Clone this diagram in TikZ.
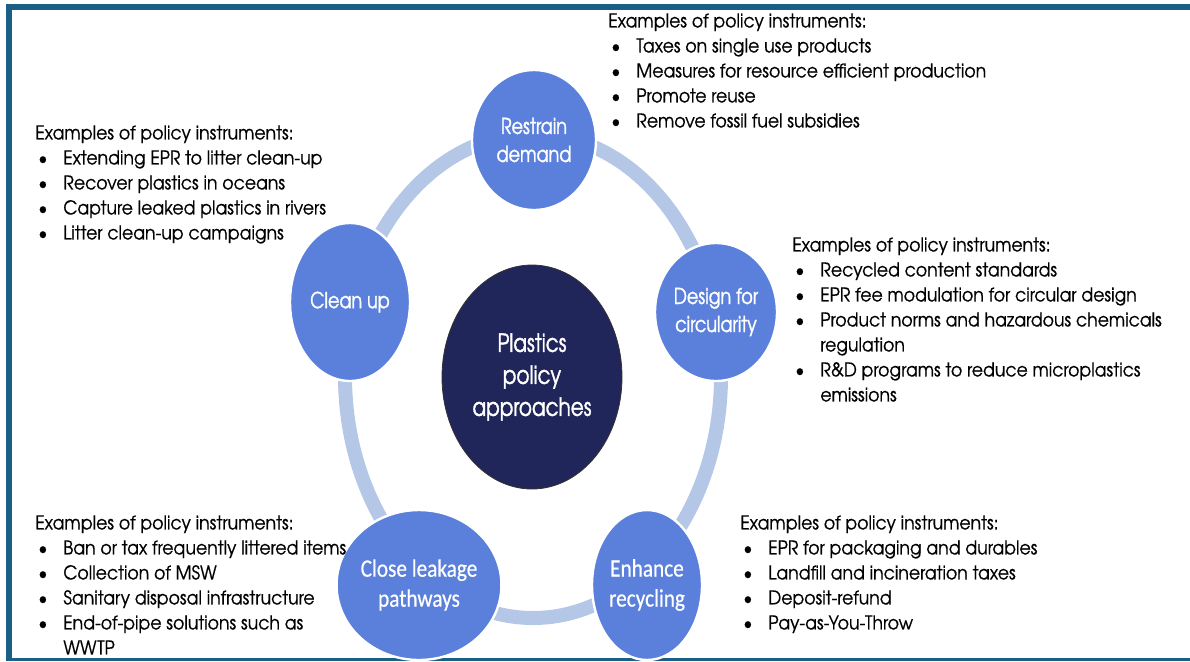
\documentclass[tikz,border=0pt]{standalone}
\usepackage{fontspec}
\setmainfont{texgyreadventor}[Extension=.otf, UprightFont=*-regular, BoldFont=*-bold, FakeStretch=0.91, FakeBold=0.6]
\newfontfamily\labelfont{texgyreadventor}[Extension=.otf, UprightFont=*-regular, FakeStretch=0.8, FakeBold=1.3]
\newfontfamily\calfont{Carlito}[FakeStretch=0.85, FakeBold=0.5]
\usetikzlibrary{shapes.geometric}

\definecolor{framecol}{HTML}{1B5F86}
\definecolor{stepblue}{HTML}{5B80DB}
\definecolor{corenavy}{HTML}{20255A}
\definecolor{ringblue}{HTML}{B4C7E7}

\tikzset{
  approach/.style n args={2}{
    ellipse,
    minimum width=#1,
    minimum height=#2,
    inner sep=0pt,
    fill=stepblue,
    draw=white,
    line width=1.2pt,
    text=white,
    align=center,
    font=\labelfont\fontsize{11}{14}\selectfont
  },
  core/.style={
    ellipse,
    minimum width=90pt,
    minimum height=112pt,
    inner sep=0pt,
    fill=corenavy,
    draw=black!80,
    thin,
    text=white,
    align=center,
    font=\labelfont\fontsize{12.5}{16}\selectfont
  },
  examples/.style={
    anchor=north west,
    inner sep=0pt,
    align=left,
    font=\fontsize{9.5}{12.5}\selectfont
  }
}
\newcommand{\bl}{\hspace*{1.5pt}\makebox[12.5pt][l]{\textbullet}}
\newcommand{\blcont}{\hspace*{14pt}}

\begin{document}
\begin{tikzpicture}[x=0.5pt, y=-0.5pt]
  \useasboundingbox (0,0) rectangle (1190,661);

  %% Frame
  \fill[framecol] (6,4) rectangle (1190,10);
  \fill[framecol] (6,4) rectangle (12,661);
  \fill[framecol] (6,658) rectangle (1190,661);

  %% Ring behind the approaches
  \draw[ringblue, line width=7pt] (533,376) ellipse [x radius=94pt, y radius=121pt];

  %% Approaches
  \node[core] (plastics) at (532,377) {Plastics\\policy\\approaches};
  \node[approach={62pt}{70pt}] (restrain) at (534,140) {Restrain\\demand};
  \node[approach={61pt}{69pt}] (design) at (716,312) {Design for\\circularity};
  \node[approach={60pt}{79pt}] (cleanup) at (350,302) {Clean up};
  \node[approach={55pt}{75pt}, font=\calfont\fontsize{12.5}{15}\selectfont] (leakage) at (419,585) {Close leakage\\pathways};
  \node[approach={55pt}{75pt}, font=\calfont\fontsize{12.5}{15}\selectfont] (recycling) at (647,585) {Enhance\\recycling};

  %% Policy instruments
  \node[examples] (restrainlist) at (608,13) {Examples of policy instruments:\\
    \bl Taxes on single use products\\
    \bl Measures for resource efficient production\\
    \bl Promote reuse\\
    \bl Remove fossil fuel subsidies};
  \node[examples] (cleanuplist) at (35,125) {Examples of policy instruments:\\
    \bl Extending EPR to litter clean-up\\
    \bl Recover plastics in oceans\\
    \bl Capture leaked plastics in rivers\\
    \bl Litter clean-up campaigns};
  \node[examples] (designlist) at (792,237) {Examples of policy instruments:\\
    \bl Recycled content standards\\
    \bl EPR fee modulation for circular design\\
    \bl Product norms and hazardous chemicals\\
    \blcont regulation\\
    \bl R\&D programs to reduce microplastics\\
    \blcont emissions};
  \node[examples] (leakagelist) at (35,515) {Examples of policy instruments:\\
    \bl Ban or tax frequently littered items\\
    \bl Collection of MSW\\
    \bl Sanitary disposal infrastructure\\
    \bl End-of-pipe solutions such as\\
    \blcont WWTP};
  \node[examples] (recyclinglist) at (740,515) {Examples of policy instruments:\\
    \bl EPR for packaging and durables\\
    \bl Landfill and incineration taxes\\
    \bl Deposit-refund\\
    \bl Pay-as-You-Throw};
\end{tikzpicture}
\end{document}
